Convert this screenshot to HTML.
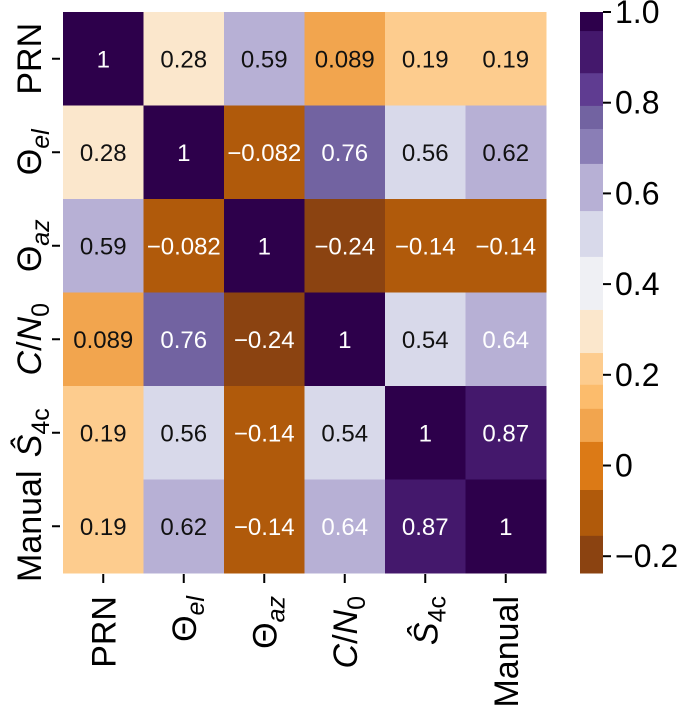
<!DOCTYPE html>
<html><head><meta charset="utf-8"><style>
html,body{margin:0;padding:0;background:#fff;}
svg{display:block;font-family:"Liberation Sans",Arial,sans-serif;}
</style></head><body>
<svg id="chart" width="685" height="705" viewBox="0 0 685 705">
<g id="cells"></g>
<g id="rowlabels"></g>
<g id="collabels"></g>
<g id="cbar"></g>
</svg>
<script>
const categories = ["PRN","Theta_el","Theta_az","C/N0","S4c","Manual"];
const matrix = [
  [1, 0.28, 0.59, 0.089, 0.19, 0.19],
  [0.28, 1, -0.082, 0.76, 0.56, 0.62],
  [0.59, -0.082, 1, -0.24, -0.14, -0.14],
  [0.089, 0.76, -0.24, 1, 0.54, 0.64],
  [0.19, 0.56, -0.14, 0.54, 1, 0.87],
  [0.19, 0.62, -0.14, 0.64, 0.87, 1]
];
const labels = [
  ["1","0.28","0.59","0.089","0.19","0.19"],
  ["0.28","1","\u22120.082","0.76","0.56","0.62"],
  ["0.59","\u22120.082","1","-0.24","-0.14","-0.14"],
  ["0.089","0.76","\u22120.24","1","0.54","0.64"],
  ["0.19","0.56","\u22120.14","0.54","1","0.87"],
  ["0.19","0.62","\u22120.14","0.64","0.87","1"]
];
const cbarTicks = [1.0, 0.8, 0.6, 0.4, 0.2, 0, -0.2];
const cbarTickLabels = ["1.0","0.8","0.6","0.4","0.2","0","\u22120.2"];
const levelBounds = [1.0, 0.958, 0.865, 0.793, 0.742, 0.665, 0.561, 0.460, 0.343, 0.248, 0.178, 0.125, 0.052, -0.054, -0.155, -0.237];
const levelColors = ["#2d004b","#44186c","#5f3c91","#7263a1","#8a7eb6","#b7b0d5","#d8d9ea","#eff0f4","#fbe7cc","#fdcc8e","#fcbc6c","#f2a54e","#dc7a16","#b05a0b","#8b4311"];

const NS="http://www.w3.org/2000/svg";
const X0=63, X1=546, Y0=12, Y1=573, VMIN=-0.237, VMAX=1.0;
const n=categories.length, cw=(X1-X0)/n, ch=(Y1-Y0)/n;
function xPos(i){return X0+i*cw;}
function yPos(j){return Y0+j*ch;}
function cbY(v){return Y0+(VMAX-v)/(VMAX-VMIN)*(Y1-Y0);}
function colorFor(v){for(let k=0;k<levelColors.length;k++){if(v>=levelBounds[k+1]-1e-9)return levelColors[k];}return levelColors[levelColors.length-1];}
function mk(tag,attrs,parent){const e=document.createElementNS(NS,tag);for(const k in attrs)e.setAttribute(k,attrs[k]);parent.appendChild(e);return e;}

const cells=document.getElementById('cells');
for(let r=0;r<n;r++)for(let c=0;c<n;c++){
  const v=matrix[r][c];
  const rect=mk('rect',{x:xPos(c),y:yPos(r),width:cw+0.5,height:ch+0.5,fill:colorFor(v)},cells);
  
  
  const light = v>=0.63 || v<=-0.05;
  const t=mk('text',{x:xPos(c)+cw/2,y:yPos(r)+ch/2+8.5,'text-anchor':'middle','font-size':'24',fill:light?'#ffffff':'#111111'},cells);
  t.textContent=labels[r][c].replace('-','\u2212');
  
  
}

const labelHTML = [
  '<tspan>PRN</tspan>',
  '<tspan>\u0398</tspan><tspan font-style="italic" font-size="25" dy="8">el</tspan>',
  '<tspan>\u0398</tspan><tspan font-style="italic" font-size="25" dy="8">az</tspan>',
  '<tspan font-style="italic">C</tspan><tspan>/</tspan><tspan font-style="italic">N</tspan><tspan font-size="25" dy="8">0</tspan>',
  '<tspan font-style="italic">\u015C</tspan><tspan font-size="25" dy="8">4c</tspan>',
  '<tspan>Manual</tspan>'
];
const rl=document.getElementById('rowlabels');
for(let r=0;r<n;r++){
  const cy=yPos(r)+ch/2;
  const tk=mk('line',{x1:52,x2:60,y1:cy,y2:cy,stroke:'#000','stroke-width':2},rl);
  
  
  const t=mk('text',{transform:'translate(41,'+cy+') rotate(-90)','text-anchor':'middle','font-size':'34',fill:'#000'},rl);
  t.innerHTML=labelHTML[r];
  
  
}
const cl=document.getElementById('collabels');
for(let c=0;c<n;c++){
  const cx=xPos(c)+cw/2;
  const tk=mk('line',{x1:cx,x2:cx,y1:574,y2:583,stroke:'#000','stroke-width':2},cl);
  
  
  const t=mk('text',{transform:'translate('+(cx+12)+',596) rotate(-90)','text-anchor':'end','font-size':'34',fill:'#000'},cl);
  t.innerHTML=labelHTML[c];
  
  
}

const cb=document.getElementById('cbar');
for(let k=0;k<levelColors.length;k++){
  const ya=cbY(levelBounds[k]), yb=cbY(levelBounds[k+1]);
  const b=mk('rect',{x:580,y:ya,width:23,height:yb-ya+0.5,fill:levelColors[k]},cb);
  
  
}
for(let k=0;k<cbarTicks.length;k++){
  const y=cbY(cbarTicks[k]);
  const tk=mk('line',{x1:603,x2:611,y1:y,y2:y,stroke:'#000','stroke-width':2},cb);
  
  
  const t=mk('text',{x:615,y:y+11,'font-size':'32',fill:'#000'},cb);
  t.textContent=cbarTickLabels[k];
  
  
}
</script>
</body></html>
